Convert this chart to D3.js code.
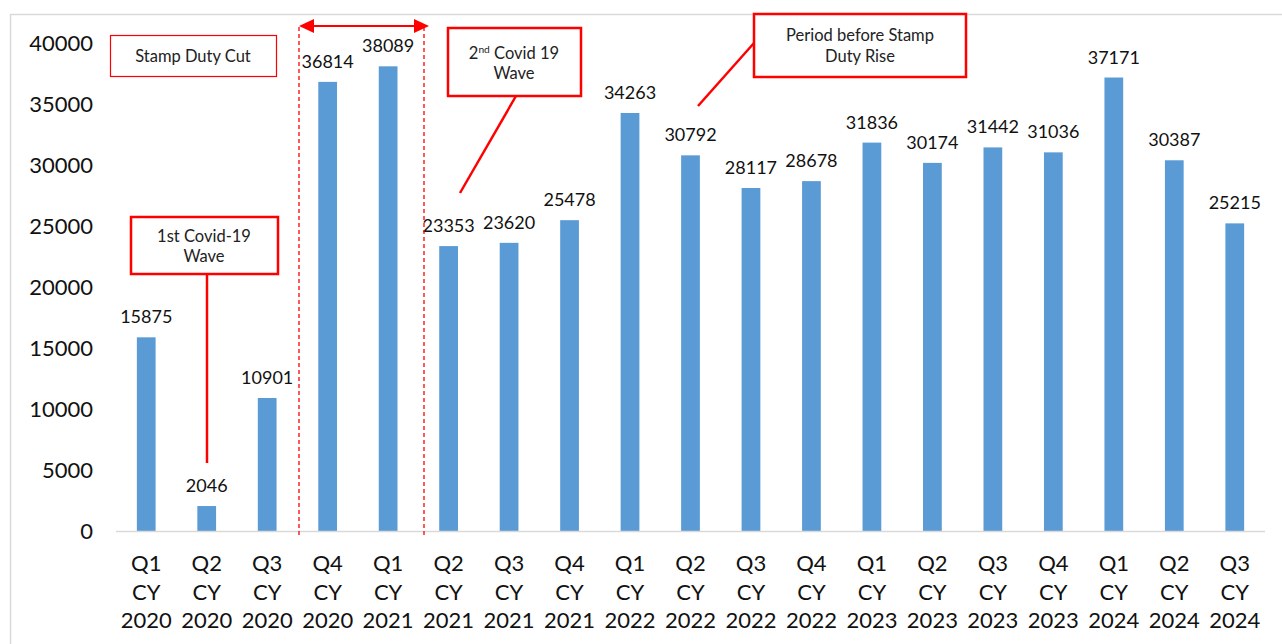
<!DOCTYPE html>
<html>
<head>
<meta charset="utf-8">
<script src="https://cdn.jsdelivr.net/npm/d3@7"></script>
<style>
  body { margin: 0; background: #fff; }
  svg { display: block; font-family: Lato, "Open Sans", sans-serif; }
</style>
</head>
<body>
<div id="chart"></div>
<script>
// quarters, years and values
const quarters = ['Q1','Q2','Q3','Q4','Q1','Q2','Q3','Q4','Q1','Q2','Q3','Q4','Q1','Q2','Q3','Q4','Q1','Q2','Q3'];
const years = ['2020','2020','2020','2020','2021','2021','2021','2021','2022','2022','2022','2022','2023','2023','2023','2023','2024','2024','2024'];
const values = [15875, 2046, 10901, 36814, 38089, 23353, 23620, 25478, 34263, 30792, 28117, 28678, 31836, 30174, 31442, 31036, 37171, 30387, 25215];
const yTicks = [0, 5000, 10000, 15000, 20000, 25000, 30000, 35000, 40000];

const width = 1282, height = 644;
const plotLeft = 116, plotRight = 1265, plotTop = 43, plotBottom = 531;
const red = '#ff0000';

const cats = quarters.map((q, i) => q + ' CY ' + years[i]);

const svg = d3.select('#chart').append('svg')
    .attr('width', width)
    .attr('height', height);

// outer frame (only top and left visible)
svg.append('path')
    .attr('d', 'M10.5,644 L10.5,14.5 L1282,14.5')
    .attr('fill', 'none')
    .attr('stroke', '#d9d9d9')
    .attr('stroke-width', 1.5);

let x = d3.scaleBand()
    .domain(cats)
    .range([plotLeft, plotRight])
    .paddingInner(0.69)
    .paddingOuter(0.345);

let y = d3.scaleLinear()
    .domain([0, 40000])
    .range([plotBottom, plotTop]);

// y tick labels
svg.append('g').selectAll('text')
    .data(yTicks).enter()
    .append('text')
    .attr('x', 93)
    .attr('y', d => y(d))
    .attr('dy', '0.36em')
    .attr('text-anchor', 'end')
    .attr('font-size', 22)
    .attr('fill', '#111')
    .text(d => d);

// bars
svg.append('g').selectAll('rect')
    .data(values).enter()
    .append('rect')
    .attr('x', (d, i) => x(cats[i]))
    .attr('y', d => y(d))
    .attr('width', x.bandwidth())
    .attr('height', d => plotBottom - y(d))
    .attr('fill', '#5b9bd5');

// baseline
svg.append('line')
    .attr('x1', plotLeft).attr('x2', plotRight)
    .attr('y1', plotBottom + 0.5).attr('y2', plotBottom + 0.5)
    .attr('stroke', '#d9d9d9')
    .attr('stroke-width', 1.5);

// value labels
svg.append('g').selectAll('text')
    .data(values).enter()
    .append('text')
    .attr('x', (d, i) => x(cats[i]) + x.bandwidth() / 2)
    .attr('y', d => y(d) - 14)
    .attr('text-anchor', 'middle')
    .attr('font-size', 18)
    .attr('fill', '#111')
    .text(d => d);

// category labels, three lines each
let cl = svg.append('g').selectAll('text')
    .data(cats).enter()
    .append('text')
    .attr('text-anchor', 'middle')
    .attr('font-size', 22)
    .attr('fill', '#111');
cl.each(function(d, i) {
  let t = d3.select(this);
  let cx = x(d) + x.bandwidth() / 2;
  [quarters[i], 'CY', years[i]].forEach((s, k) => {
    t.append('tspan').attr('x', cx).attr('y', 571 + k * 28.5).text(s);
  });
});

// ---- annotations ----
let ann = svg.append('g');

function box(x0, y0, w, h, sw, lines, cx, ys, fs) {
  ann.append('rect')
    .attr('x', x0).attr('y', y0).attr('width', w).attr('height', h)
    .attr('fill', '#fff').attr('stroke', red).attr('stroke-width', sw);
  lines.forEach((s, k) => {
    let t = ann.append('text')
      .attr('x', cx).attr('y', ys[k])
      .attr('text-anchor', 'middle')
      .attr('font-size', fs)
      .attr('fill', '#222');
    if (Array.isArray(s)) {
      t.append('tspan').text(s[0]);
      t.append('tspan').attr('font-size', fs * 0.62).attr('dy', -6).text(s[1]);
      t.append('tspan').attr('dy', 6).text(s[2]);
    } else {
      t.text(s);
    }
  });
}

function seg(x1, y1, x2, y2, sw) {
  ann.append('line')
    .attr('x1', x1).attr('y1', y1).attr('x2', x2).attr('y2', y2)
    .attr('stroke', red).attr('stroke-width', sw);
}

// stamp duty cut period
let lx = 299, rx = 424;
[lx, rx].forEach(v => {
  ann.append('line')
    .attr('x1', v).attr('x2', v)
    .attr('y1', 27).attr('y2', plotBottom + 4)
    .attr('stroke', red).attr('stroke-width', 1.3)
    .attr('stroke-dasharray', '4,3');
});
seg(lx + 10, 26, rx - 6, 26, 2);
ann.append('path').attr('d', `M${lx},26 L${lx + 15},19 L${lx + 15},33 Z`).attr('fill', red);
ann.append('path').attr('d', `M${rx + 5},26 L${rx - 10},19 L${rx - 10},33 Z`).attr('fill', red);

box(110.5, 35.5, 166, 41, 1.2, ['Stamp Duty Cut'], 193, [62], 16.5);

// 1st wave
seg(207, 274, 207, 463, 2.5);
box(131, 217, 147, 57, 2.5, ['1st Covid-19', 'Wave'], 204, [242, 262], 16.5);

// 2nd wave
seg(516, 96, 460, 193, 2.5);
box(448, 28, 133, 68, 2.5, [['2', 'nd', ' Covid 19'], 'Wave'], 514, [59, 79], 16.5);

// period before stamp duty rise
seg(754, 43, 698, 106, 2.5);
box(754, 14, 212, 63, 2.5, ['Period before Stamp', 'Duty Rise'], 860, [41, 62], 16.5);
</script>
</body>
</html>
